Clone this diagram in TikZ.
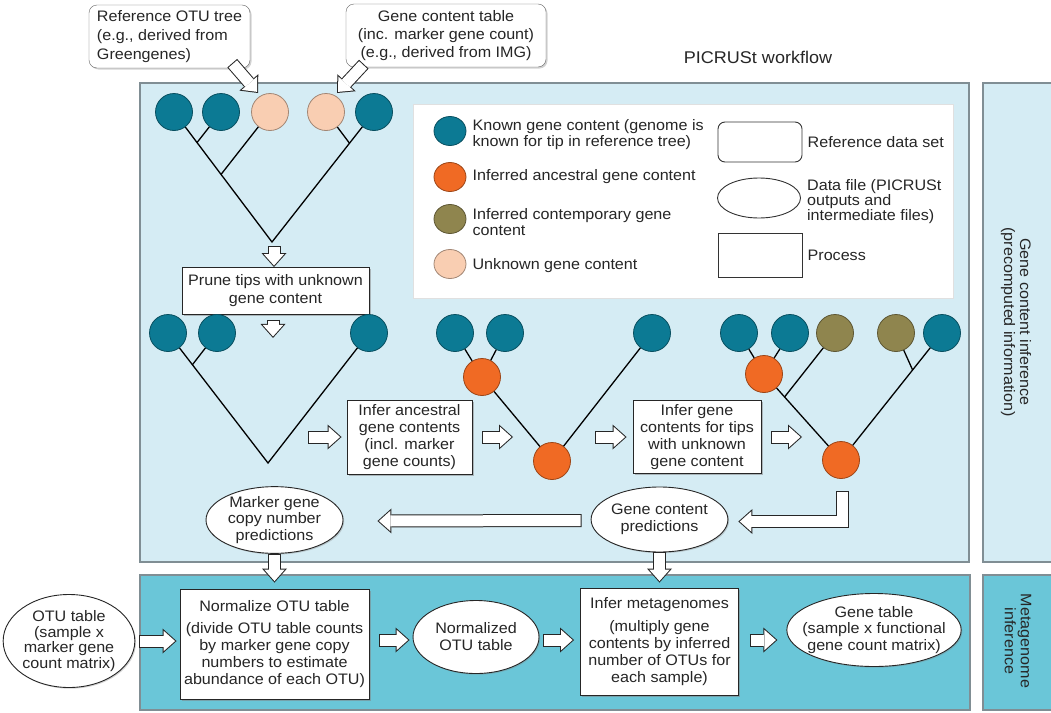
\documentclass[tikz,border=0pt]{standalone}
\usepackage{fontspec}
\setmainfont{Liberation Sans}[FakeStretch=1.06]
\usetikzlibrary{arrows.meta,positioning,shapes.geometric,shadows,calc}
\definecolor{known}{RGB}{12,122,148}
\definecolor{ancestral}{RGB}{240,106,36}
\definecolor{contemp}{RGB}{143,133,78}
\definecolor{unknown}{RGB}{249,206,178}
\definecolor{palepanel}{RGB}{213,236,244}
\definecolor{deeppanel}{RGB}{106,198,216}
\definecolor{rim}{RGB}{128,142,148}

\begin{document}
\begin{tikzpicture}[x=1pt,y=-1pt,
      font=\fontsize{15.2}{18}\selectfont,
      every node/.append style={text=black!85},
      lead/.style={font=\fontsize{15.2}{#1}\selectfont},
      panel/.style={draw=rim,line width=1.2pt},
      refset/.style={draw=black!60,fill=white,rounded corners=8pt,inner sep=2pt,
                     drop shadow={shadow xshift=1.5pt,shadow yshift=-1.5pt,opacity=.35}},
      process/.style={draw=black!85,fill=white,align=center,inner sep=2pt,line width=0.9pt,
                      drop shadow={shadow xshift=1.5pt,shadow yshift=-1.5pt,opacity=.5}},
      datafile/.style={ellipse,draw=black!85,fill=white,align=center,inner sep=0pt,line width=0.9pt,
                       drop shadow={shadow xshift=1.2pt,shadow yshift=-1.2pt,opacity=.35}},
      gene/.style={circle,fill=#1,draw=#1!65!black,line width=0.8pt,minimum size=37pt,inner sep=0pt},
      keydot/.style={gene=#1,ellipse,minimum width=32pt,minimum height=29pt},
      branch/.style={line width=1.3pt},
      fat/.style={draw=black!85,line width=13pt,-{Triangle[length=14pt,width=25pt,line width=0pt]},
                  postaction={draw=white,line width=11pt,shorten <=1pt,shorten >=1.5pt,
                              -{Triangle[length=11.5pt,width=20.5pt,line width=0pt]}}}
    ]
    \useasboundingbox (0,0) rectangle (1051,712);
    \fill[white] (0,0) rectangle (1051,712);

    % panels
    \draw[panel,fill=palepanel] (140,83) rectangle (969,562);
    \draw[panel,fill=palepanel] (983,83) rectangle (1060,562);
    \draw[panel,fill=deeppanel] (140,575) rectangle (970,710);
    \draw[panel,fill=deeppanel] (983,575) rectangle (1060,710);
    \node[rotate=-90,align=center,lead=16] (lbl1) at (1016,322) {Gene content inference\\(precomputed information)};
    \node[rotate=-90,align=center,lead=16] (lbl2) at (1018,641) {Metagenome\\inference};

    % inputs
    \node[refset,align=left,minimum width=161pt,minimum height=63pt,lead=19] (ref) at (169.5,36.5)
      {Reference OTU tree\\(e.g., derived from\\Greengenes)};
    \node[refset,align=center,minimum width=200pt,minimum height=63pt] (gct) at (446,35.5)
      {Gene content table\\(inc. marker gene count)\\(e.g., derived from IMG)};
    \node[font=\fontsize{17}{20}\selectfont] (ttl) at (758,57) {PICRUSt workflow};

    % legend
    \node[draw=black!12,fill=white,minimum width=540pt,minimum height=194pt,
          drop shadow={shadow xshift=1pt,shadow yshift=-1pt,opacity=.2}] (key) at (683,201) {};
    \node[keydot=known] (k1) at (450,131) {};
    \node[right=6pt of k1,yshift=-4pt,align=left,inner sep=0pt,lead=16] (k1t)
      {Known gene content (genome is\\known for tip in reference tree)};
    \node[keydot=ancestral] (k2) at (450,177) {};
    \node[right=6pt of k2,inner sep=0pt] (k2t) {Inferred ancestral gene content};
    \node[keydot=contemp] (k3) at (450,219) {};
    \node[right=6pt of k3,yshift=-3pt,align=left,inner sep=0pt,lead=16] (k3t)
      {Inferred contemporary gene\\content};
    \node[keydot=unknown] (k4) at (450,264) {};
    \node[right=6pt of k4,yshift=-2pt,inner sep=0pt] (k4t) {Unknown gene content};
    \node[draw=black!80,rounded corners=7pt,minimum width=84pt,minimum height=40pt,line width=0.9pt] (s1) at (760,142) {};
    \node[right=5pt of s1,inner sep=0pt] (s1t) {Reference data set};
    \node[ellipse,draw=black!80,minimum width=83pt,minimum height=40pt,line width=0.9pt] (s2) at (759,198) {};
    \node[right=6pt of s2,yshift=-4pt,align=left,inner sep=0pt,lead=15] (s2t)
      {Data file (PICRUSt\\outputs and\\intermediate files)};
    \node[draw=black!80,minimum width=84pt,minimum height=44pt,line width=0.9pt] (s3) at (760,255) {};
    \node[right=5pt of s3,inner sep=0pt] (s3t) {Process};

    % reference tree
    \node[gene=known] (c11) at (174,112) {};
    \node[gene=known] (c12) at (221,112) {};
    \node[gene=unknown] (c13) at (270,112) {};
    \node[gene=unknown] (c14) at (326,112) {};
    \node[gene=known] (c15) at (374,112) {};
    \coordinate (r1) at (272,242);
    \coordinate (j12) at ($(r1)!0.765!(c11)$);
    \coordinate (j13) at ($(r1)!0.52!(c11)$);
    \coordinate (j14) at ($(r1)!0.76!(c15)$);
    \draw[branch] (c11) -- (r1) -- (c15);
    \draw[branch] (j12) -- (c12);
    \draw[branch] (j13) -- (c13);
    \draw[branch] (j14) -- (c14);
    \draw[fat] ($(ref.south east)+(-18,-5)$) -- ($(c13)+(-12,-19)$);
    \draw[fat] ($(gct.south west)+(18,-3)$) -- ($(c14)+(11,-19)$);

    \node[process,minimum width=187pt,minimum height=47pt] (prune) at (275.5,291)
      {Prune tips with unknown\\gene content};
    \draw[fat] ($(r1)+(2,4)$) -- ($(prune.north)+(-1.5,0)$);
    \draw[fat] ($(prune.south)+(-2.5,5)$) -- ($(prune.south)+(-2.5,23)$);

    % pruned tree
    \node[gene=known] (c21) at (168,333) {};
    \node[gene=known] (c22) at (217,333) {};
    \node[gene=known] (c23) at (369,333) {};
    \coordinate (r2) at (268,463);
    \coordinate (j22) at ($(r2)!0.756!(c21)$);
    \draw[branch] (c21) -- (r2) -- (c23);
    \draw[branch] (j22) -- (c22);

    \node[process,lead=17,minimum width=125pt,minimum height=74pt] (anc) at (409.5,437)
      {Infer ancestral\\gene contents\\(incl. marker\\gene counts)};

    % ancestral states
    \node[gene=known] (c31) at (455,333) {};
    \node[gene=known] (c32) at (505,333) {};
    \node[gene=known] (c33) at (652,333) {};
    \node[gene=ancestral] (o31) at (482,377) {};
    \node[gene=ancestral] (o32) at (552,461) {};
    \draw[branch] (c31) -- (o31) -- (o32) -- (c33);
    \draw[branch] (o31) -- (c32);

    \node[process,lead=17,minimum width=128pt,minimum height=73pt] (gcb) at (697,437)
      {Infer gene\\contents for tips\\with unknown\\gene content};

    % predicted tips
    \node[gene=known] (c41) at (739,333) {};
    \node[gene=known] (c42) at (790,333) {};
    \node[gene=contemp] (c43) at (835,333) {};
    \node[gene=contemp] (c44) at (896,333) {};
    \node[gene=known] (c45) at (942,333) {};
    \node[gene=ancestral] (o41) at (764,374) {};
    \node[gene=ancestral] (o42) at (841,460) {};
    \coordinate (j43) at ($(o42)!0.733!(o41)$);
    \coordinate (j44) at ($(o42)!0.709!(c45)$);
    \draw[branch] (c41) -- (o41) -- (o42) -- (c45);
    \draw[branch] (o41) -- (c42);
    \draw[branch] (j43) -- (c43);
    \draw[branch] (j44) -- (c44);

    \draw[fat] ($(r2)+(40,-26)$) -- ($(anc.west)+(-5,0)$);
    \draw[fat] ($(anc.east)+(10,0)$) -- ($(o32)+(-39,-24)$);
    \draw[fat] ($(o32)+(43,-24)$) -- ($(gcb.west)+(-6,0)$);
    \draw[fat] ($(gcb.east)+(10,0)$) -- ($(o42)+(-39,-23)$);

    % predictions
    \node[datafile,lead=16.5,minimum width=137pt,minimum height=64pt] (mgc) at (274.5,520)
      {Marker gene\\copy number\\predictions};
    \node[datafile,lead=17,minimum width=135pt,minimum height=65pt] (gcp) at (659.5,519.5)
      {Gene content\\predictions};
    \draw[fat] ($(o42.south)+(1,12)$) |- ($(gcp.east)+(10,2)$);
    \draw[fat] ($(gcp.west)+(-9,1)$) -- ($(mgc.east)+(34,1)$);

    % metagenome inference
    \node[datafile,lead=15.5,minimum width=130pt,minimum height=93pt] (otu) at (69,641)
      {OTU table\\(sample x\\marker gene\\count matrix)};
    \node[process,lead=17.2,minimum width=189pt,minimum height=110pt] (norm) at (274.5,644)
      {Normalize OTU table\\[5pt](divide OTU table counts\\by marker gene copy\\numbers to estimate\\abundance of each OTU)};
    \node[datafile,lead=17,minimum width=126pt,minimum height=73pt] (nrm) at (476,637)
      {Normalized\\OTU table};
    \node[process,lead=17,minimum width=158pt,minimum height=107pt] (meta) at (659.5,641.5)
      {Infer metagenomes\\[6pt](multiply gene\\contents by inferred\\number of OTUs for\\each sample)};
    \node[datafile,lead=16.5,inner xsep=-10pt,minimum width=167pt,minimum height=73pt] (gtab) at (874,630)
      {Gene table\\(sample x functional\\gene count matrix)};

    \draw[fat] (mgc.south) -- ($(norm.north)+(0,-6)$);
    \draw[fat] (gcp.south) -- ($(meta.north)+(0,-5)$);
    \draw[fat] ($(otu.east)+(4,0)$) -- ($(norm.west |- otu.east)+(-3,0)$);
    \draw[fat] ($(norm.east)+(10,-4)$) -- ($(nrm.west)+(-3,3)$);
    \draw[fat] ($(nrm.east)+(4,3)$) -- ($(meta.west)+(-6,-1.5)$);
    \draw[fat] ($(meta.east)+(11,-1.5)$) -- ($(gtab.west)+(-9,10)$);
  \end{tikzpicture}
\end{document}
